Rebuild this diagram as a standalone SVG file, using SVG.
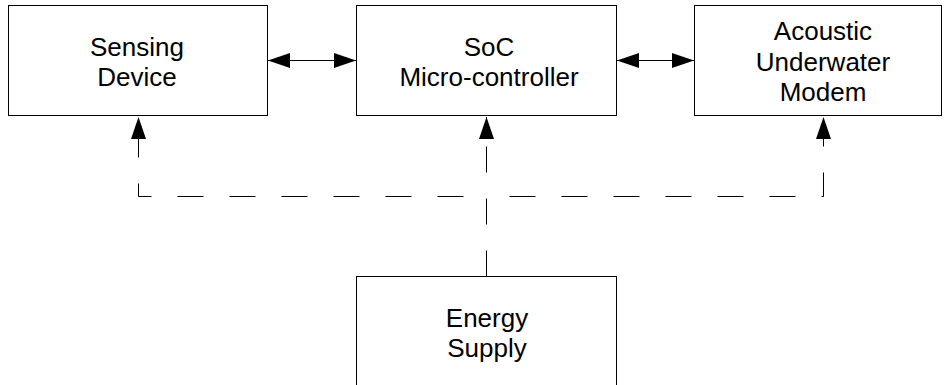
<svg xmlns="http://www.w3.org/2000/svg" width="944" height="385" viewBox="0 0 944 385">
<style>
.box{fill:#fff;stroke:#000;stroke-width:1}
.lbl{font-family:"Liberation Sans",Arial,sans-serif;font-size:26px;fill:#000;text-anchor:middle}
.solid{fill:none;stroke:#000;stroke-width:1}
.dash{fill:none;stroke:#000;stroke-width:1;stroke-dasharray:26 26}
</style>
<defs>
<marker id="ah" markerUnits="userSpaceOnUse" markerWidth="22" markerHeight="15" refX="22" refY="7.5" orient="auto-start-reverse" viewBox="0 0 22 15">
<path d="M0,0 L22,7.5 L0,15 Z" fill="#000"/>
</marker>
</defs>
<rect width="944" height="385" fill="#fff"/>
<g id="node-sensing">
<rect class="box" x="8.5" y="5.5" width="259" height="110"/>
<text class="lbl" x="137" y="56">Sensing</text>
<text class="lbl" x="137" y="86">Device</text>
</g>
<g id="node-soc">
<rect class="box" x="356.5" y="5.5" width="260" height="110"/>
<text class="lbl" x="489" y="56">SoC</text>
<text class="lbl" x="489" y="86">Micro-controller</text>
</g>
<g id="node-modem">
<rect class="box" x="694.5" y="5.5" width="247" height="110"/>
<text class="lbl" x="823" y="40">Acoustic</text>
<text class="lbl" x="823" y="71">Underwater</text>
<text class="lbl" x="823" y="101">Modem</text>
</g>
<g id="node-energy">
<rect class="box" x="356.5" y="276.5" width="260" height="130"/>
<text class="lbl" x="487" y="327">Energy</text>
<text class="lbl" x="487" y="357">Supply</text>
</g>
<g id="connectors">
<line class="solid" x1="268" y1="60.5" x2="356" y2="60.5" marker-start="url(#ah)" marker-end="url(#ah)"/>
<line class="solid" x1="617" y1="60.5" x2="694" y2="60.5" marker-start="url(#ah)" marker-end="url(#ah)"/>
<path class="dash" d="M486.5,276.5 L486.5,117" marker-end="url(#ah)"/>
<path class="dash" style="stroke-dashoffset:29" d="M486.5,196.5 L138.5,196.5 L138.5,117" marker-end="url(#ah)"/>
<path class="dash" style="stroke-dashoffset:29" d="M486.5,196.5 L823.5,196.5 L823.5,117" marker-end="url(#ah)"/>
</g>
</svg>
